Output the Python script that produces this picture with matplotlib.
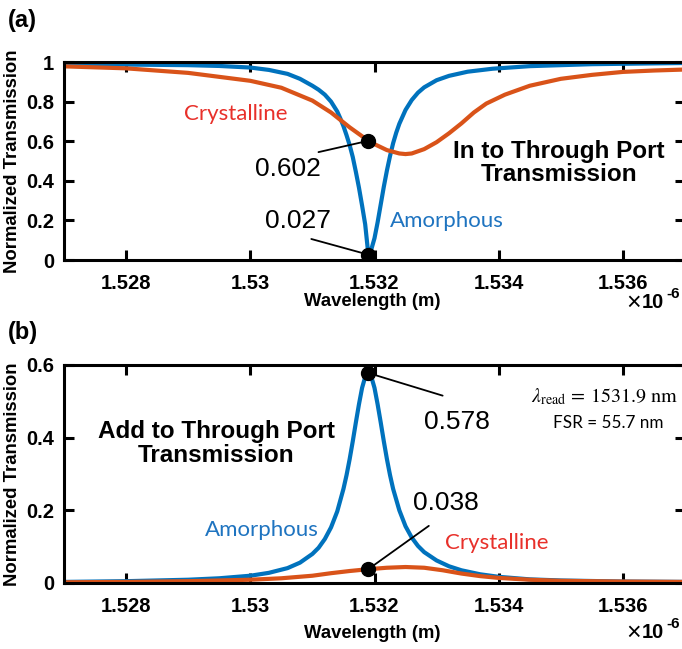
import matplotlib
matplotlib.use("Agg")
import matplotlib.pyplot as plt

plt.rcParams['font.family'] = ['Liberation Sans', 'DejaVu Sans']
plt.rcParams['mathtext.fontset'] = 'stix'

# ---------------- data (wavelength in micrometres, axis shows x10^-6 m) -------------
wl_a_amorph = [1.5270, 1.5280, 1.5290, 1.5295, 1.5300, 1.5303, 1.5306, 1.5308, 1.5310,
               1.5311, 1.5312, 1.5313, 1.5314, 1.53145, 1.5315, 1.53155, 1.5316, 1.53165,
               1.5317, 1.53175, 1.5318, 1.53185, 1.5319, 1.53195, 1.5320, 1.53205, 1.5321,
               1.53215, 1.5322, 1.53225, 1.5323, 1.53235, 1.5324, 1.5325, 1.5326, 1.5327,
               1.5328, 1.5330, 1.5332, 1.5335, 1.5339, 1.5345, 1.5355, 1.5370]
t_a_amorph = [0.990, 0.987, 0.984, 0.980, 0.972, 0.960, 0.940, 0.915, 0.880,
              0.860, 0.835, 0.800, 0.750, 0.715, 0.676, 0.630, 0.580, 0.520,
              0.445, 0.365, 0.275, 0.180, 0.030, 0.055, 0.110, 0.190, 0.280,
              0.370, 0.452, 0.525, 0.590, 0.643, 0.688, 0.758, 0.808, 0.845,
              0.872, 0.908, 0.930, 0.951, 0.966, 0.979, 0.989, 0.995]

wl_a_cryst = [1.5270, 1.5280, 1.5290, 1.5300, 1.5305, 1.5310, 1.5313, 1.5316, 1.5318,
              1.5319, 1.5320, 1.5322, 1.5324, 1.5325, 1.5326, 1.5328, 1.5330, 1.5332,
              1.5334, 1.5336, 1.5338, 1.5341, 1.5345, 1.5350, 1.5355, 1.5360, 1.5365,
              1.5370]
t_a_cryst = [0.978, 0.968, 0.945, 0.905, 0.870, 0.805, 0.745, 0.670, 0.625,
             0.605, 0.585, 0.555, 0.538, 0.535, 0.538, 0.560, 0.595, 0.640,
             0.690, 0.745, 0.790, 0.835, 0.880, 0.915, 0.935, 0.950, 0.957,
             0.962]

wl_b_amorph = [1.5270, 1.5280, 1.5290, 1.5295, 1.5300, 1.5303, 1.5306, 1.5308, 1.5310,
               1.5311, 1.5312, 1.5313, 1.5314, 1.5315, 1.53155, 1.5316, 1.53165, 1.5317,
               1.53175, 1.5318, 1.53185, 1.5319, 1.53195, 1.5320, 1.53205, 1.5321, 1.53215,
               1.5322, 1.53225, 1.5323, 1.5324, 1.5325, 1.5326, 1.5327, 1.5328, 1.5330,
               1.5332, 1.5334, 1.5337, 1.5340, 1.5345, 1.5350, 1.5360, 1.5370]
t_b_amorph = [0.003, 0.005, 0.009, 0.013, 0.020, 0.028, 0.041, 0.056, 0.080,
              0.097, 0.121, 0.153, 0.197, 0.259, 0.297, 0.341, 0.390, 0.442,
              0.492, 0.537, 0.567, 0.578, 0.567, 0.537, 0.492, 0.442, 0.390,
              0.341, 0.297, 0.259, 0.200, 0.156, 0.125, 0.102, 0.085, 0.062,
              0.046, 0.035, 0.024, 0.017, 0.010, 0.007, 0.004, 0.003]

wl_b_cryst = [1.5270, 1.5280, 1.5290, 1.5300, 1.5305, 1.5310, 1.5313, 1.5316, 1.5319,
              1.5322, 1.5325, 1.5328, 1.5331, 1.5334, 1.5337, 1.5340, 1.5345, 1.5350,
              1.5360, 1.5370]
t_b_cryst = [0.002, 0.003, 0.005, 0.009, 0.013, 0.020, 0.027, 0.033, 0.038,
             0.042, 0.044, 0.042, 0.035, 0.026, 0.019, 0.014, 0.009, 0.006,
             0.004, 0.003]

lambda_read = 1.5319
marks_a = [0.602, 0.027]
marks_b = [0.578, 0.038]
xticks = [1.528, 1.530, 1.532, 1.534, 1.536]
xticklabels = ['1.528', '1.53', '1.532', '1.534', '1.536']
yticks_a = [0, 0.2, 0.4, 0.6, 0.8, 1]
yticklabels_a = ['0', '0.2', '0.4', '0.6', '0.8', '1']
yticks_b = [0, 0.2, 0.4, 0.6]
yticklabels_b = ['0', '0.2', '0.4', '0.6']

BLUE = '#0072BD'
ORANGE = '#D95319'
TXT_RED = '#E8302A'
TXT_BLUE = '#1F74C0'

fig = plt.figure(figsize=(6.82, 6.49), dpi=100)
W, H = 682.0, 649.0

def ax_rect(l, t, r, b):
    return [l / W, 1 - b / H, (r - l) / W, (b - t) / H]

ax1 = fig.add_axes(ax_rect(64, 62, 685, 260))
ax2 = fig.add_axes(ax_rect(64, 365, 685, 583))

def style(ax, yt, ytl, ylim):
    ax.set_xlim(1.527, 1.537)
    ax.set_ylim(*ylim)
    ax.set_xticks(xticks)
    ax.set_xticklabels(xticklabels)
    ax.set_yticks(yt)
    ax.set_yticklabels(ytl)
    ax.tick_params(direction='in', length=7, width=2.2, top=True, right=True,
                   labelsize=14.5)
    ax.tick_params(axis='x', pad=10)
    ax.tick_params(axis='y', pad=7)
    for lab in ax.get_xticklabels() + ax.get_yticklabels():
        lab.set_fontweight('bold')
    for s in ax.spines.values():
        s.set_linewidth(2.2)
    ax.set_ylabel('Normalized Transmission', fontsize=13.3, fontweight='bold', labelpad=4)

# ---- (a)
ax1.plot(wl_a_amorph, t_a_amorph, color=BLUE, lw=3.0)
ax1.plot(wl_a_cryst, t_a_cryst, color=ORANGE, lw=3.0)
style(ax1, yticks_a, yticklabels_a, (0, 1))
ax1.plot([lambda_read, lambda_read], marks_a, 'o', color='black', ms=10, zorder=5)
ax1.annotate('0.602', xy=(lambda_read, marks_a[0]), xytext=(1.53061, 0.46),
             fontsize=19, ha='center', va='center',
             arrowprops=dict(arrowstyle='-', color='black', lw=1.3, shrinkA=0, shrinkB=0,
                             relpos=(0.96, 1.2)))
ax1.annotate('0.027', xy=(lambda_read, marks_a[1]), xytext=(1.53077, 0.197),
             fontsize=19, ha='center', va='center',
             arrowprops=dict(arrowstyle='-', color='black', lw=1.3, shrinkA=0, shrinkB=0,
                             relpos=(0.70, -0.25)))
ax1.text(1.52976, 0.735, 'Crystalline', color=TXT_RED, fontsize=16, family='Lato',
         ha='center', va='center')
ax1.text(1.53316, 0.197, 'Amorphous', color=TXT_BLUE, fontsize=16, family='Lato',
         ha='center', va='center')
ax1.text(1.53497, 0.49, 'In to Through Port\nTransmission', fontsize=17.5, fontweight='bold',
         ha='center', va='center', linespacing=1.05)

# ---- (b)
ax2.plot(wl_b_amorph, t_b_amorph, color=BLUE, lw=3.0)
ax2.plot(wl_b_cryst, t_b_cryst, color=ORANGE, lw=3.0)
style(ax2, yticks_b, yticklabels_b, (0, 0.6))
ax2.plot([lambda_read, lambda_read], marks_b, 'o', color='black', ms=10, zorder=5)
ax2.annotate('0.578', xy=(lambda_read, marks_b[0]), xytext=(1.53332, 0.443),
             fontsize=19, ha='center', va='center',
             arrowprops=dict(arrowstyle='-', color='black', lw=1.3, shrinkA=0, shrinkB=0,
                             relpos=(0.29, 1.6)))
ax2.annotate('0.038', xy=(lambda_read, marks_b[1]), xytext=(1.53315, 0.220),
             fontsize=19, ha='center', va='center',
             arrowprops=dict(arrowstyle='-', color='black', lw=1.3, shrinkA=0, shrinkB=0,
                             relpos=(0.24, -0.45)))
ax2.text(1.53018, 0.146, 'Amorphous', color=TXT_BLUE, fontsize=16, family='Lato',
         ha='center', va='center')
ax2.text(1.53397, 0.110, 'Crystalline', color=TXT_RED, fontsize=16, family='Lato',
         ha='center', va='center')
ax2.text(1.52945, 0.384, 'Add to Through Port\nTransmission', fontsize=17.5, fontweight='bold',
         ha='center', va='center', linespacing=1.05)
ax2.text(1.53571, 0.512, r'$\lambda_{\mathrm{read}}\,=\,1531.9\ \mathrm{nm}$', fontsize=14.5,
         ha='center', va='center')
ax2.text(1.53576, 0.44, 'FSR = 55.7 nm', fontsize=12.3, family='Lato',
         ha='center', va='center')

# x labels, panel labels and multipliers (figure pixel positions)
fig.text(372 / W, 1 - 301 / H, 'Wavelength (m)', fontsize=13.3, fontweight='bold',
         ha='center', va='center')
fig.text(372 / W, 1 - 634 / H, 'Wavelength (m)', fontsize=13.3, fontweight='bold',
         ha='center', va='center')
fig.text(8 / W, 1 - 20 / H, '(a)', fontsize=17, fontweight='bold', ha='left', va='center')
fig.text(8 / W, 1 - 333 / H, '(b)', fontsize=17, fontweight='bold', ha='left', va='center')
for yb in (302, 632):
    fig.text(626 / W, 1 - (yb + 1) / H, '\u00d7', fontsize=18, ha='left', va='center')
    fig.text(642 / W, 1 - yb / H, '10', fontsize=14.5, fontweight='bold', ha='left', va='center')
    fig.text(666 / W, 1 - (yb - 8) / H, '-6', fontsize=11, fontweight='bold', ha='left', va='center')

fig.savefig('out.png', dpi=100)
